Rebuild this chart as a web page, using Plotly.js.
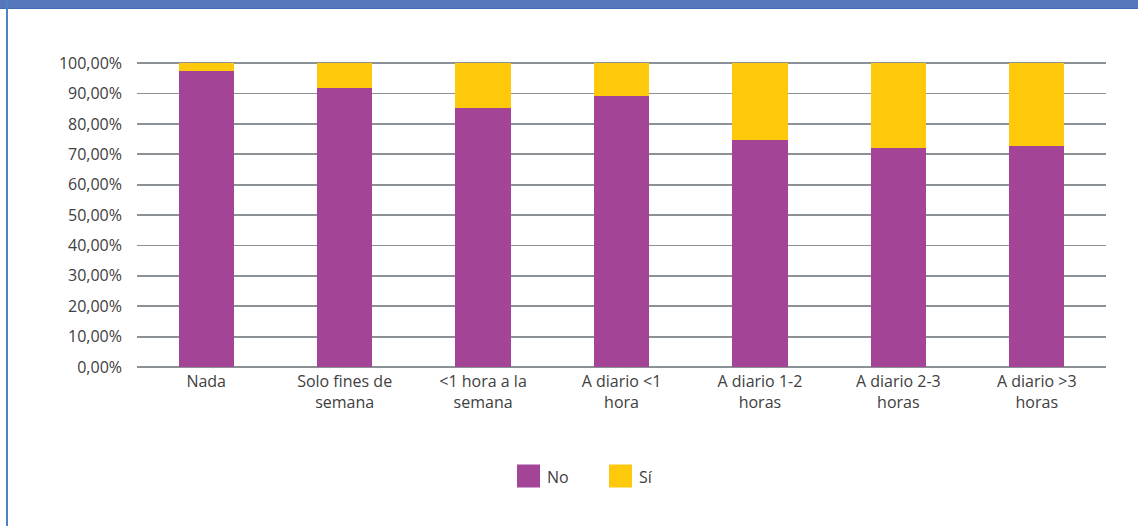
<!DOCTYPE html>
<html>
<head>
<meta charset="utf-8">
<script src="https://cdn.plot.ly/plotly-3.0.1.min.js"></script>
<style>
  html, body { margin: 0; padding: 0; background: #ffffff; }
  #wrap { position: relative; width: 1138px; height: 526px; overflow: hidden; }
  #chart { position: absolute; left: 0; top: 0; width: 1138px; height: 526px; }
  #topbar { position: absolute; left: 0; top: 0; width: 1138px; height: 8px; background: #5677bc; border-bottom: 1px solid #3f6fb0; }
  #leftbar { position: absolute; left: 6px; top: 0; width: 2px; height: 526px; background: #4f82c0; }
</style>
</head>
<body>
<div id="wrap">
  <div id="chart"></div>
  <div id="topbar"></div>
  <div id="leftbar"></div>
</div>
<script>
const categories = [
  "Nada",
  "Solo fines de<br>semana",
  "&lt;1 hora a la<br>semana",
  "A diario &lt;1<br>hora",
  "A diario 1-2<br>horas",
  "A diario 2-3<br>horas",
  "A diario &gt;3<br>horas"
];
const seriesNames = ["No", "Sí"];
const noValues = [97.4, 91.9, 85.3, 89.3, 74.8, 72.2, 72.6];
const siValues = [2.6, 8.1, 14.7, 10.7, 25.2, 27.8, 27.4];
const yTickValues = [0, 10, 20, 30, 40, 50, 60, 70, 80, 90, 100];
const yTickLabels = ["0,00%", "10,00%", "20,00%", "30,00%", "40,00%", "50,00%", "60,00%", "70,00%", "80,00%", "90,00%", "100,00%"];

const colors = ["#a34497", "#fdc90a"];
const textColor = "#404040";
const fontFam = "'Open Sans', 'Noto Sans', sans-serif";
const fs = 16;

const traces = [
  { type: "bar", name: seriesNames[0], x: categories, y: noValues, marker: { color: colors[0] }, showlegend: false, hoverinfo: "none" },
  { type: "bar", name: seriesNames[1], x: categories, y: siValues, marker: { color: colors[1] }, showlegend: false, hoverinfo: "none" }
];

// manual legend (large square swatches)
const legendShapes = [];
const legendAnns = [];
const legX = [517, 609];
seriesNames.forEach((n, i) => {
  legendShapes.push({ type: "rect", xref: "paper", yref: "paper",
    x0: (legX[i] - 137) / 969, x1: (legX[i] + 23 - 137) / 969,
    y0: (367 - 487.5) / 305, y1: (367 - 464.5) / 305,
    fillcolor: colors[i], line: { width: 0 } });
  legendAnns.push({ xref: "paper", yref: "paper", x: (legX[i] + 28 - 137) / 969, y: (367 - 477) / 305,
    xanchor: "left", yanchor: "middle", text: n, showarrow: false,
    font: { family: fontFam, size: fs, color: textColor } });
});

const layout = {
  width: 1138, height: 526,
  margin: { l: 137, r: 32, t: 62, b: 159, pad: 0 },
  paper_bgcolor: "#ffffff", plot_bgcolor: "#ffffff",
  barmode: "stack",
  bargap: 0.6,
  showlegend: false,
  font: { family: fontFam, size: fs, color: textColor },
  xaxis: {
    type: "category",
    showgrid: false, zeroline: false, showline: false,
    ticks: "", tickfont: { family: fontFam, size: fs, color: textColor },
    ticklabelstandoff: 3,
    fixedrange: true
  },
  yaxis: {
    range: [0, 100.4],
    tickmode: "array",
    tickvals: yTickValues,
    ticktext: yTickLabels,
    showgrid: true, gridcolor: "#8c9196", gridwidth: 1.8,
    zeroline: true, zerolinecolor: "#8c9196", zerolinewidth: 1.8,
    showline: false, ticks: "",
    tickfont: { family: fontFam, size: fs, color: textColor },
    ticklabelstandoff: 14,
    fixedrange: true
  },
  shapes: legendShapes,
  annotations: legendAnns
};

Plotly.newPlot("chart", traces, layout, { displayModeBar: false, staticPlot: true });
</script>
</body>
</html>
